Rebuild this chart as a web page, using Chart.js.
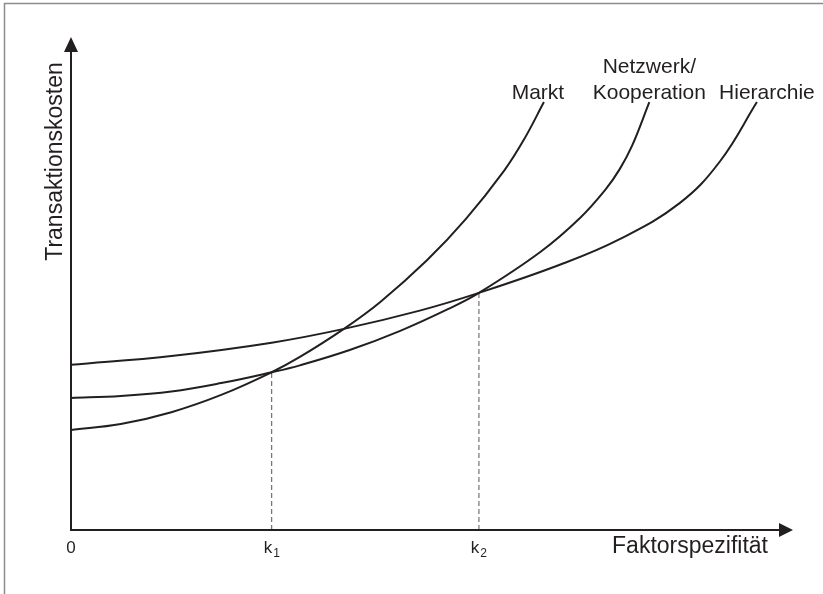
<!DOCTYPE html>
<html><head><meta charset="utf-8">
<script src="https://cdn.jsdelivr.net/npm/chart.js@4"></script>
<style>html,body{margin:0;padding:0;background:#fff;}canvas{display:block;}</style>
</head><body>
<canvas id="c" width="823" height="594"></canvas>
<script>
// ---- data (arbitrary units: x 0..100 = Faktorspezifität, y 0..100 = Transaktionskosten) ----
const marktX = [0, 6.9, 13.9, 20.8, 27.8, 31.7, 37.8, 42.8, 49.3, 54.7, 60.0, 62.7, 65.5];
const marktY = [20.3, 21.5, 23.9, 27.4, 32.0, 35.1, 40.8, 46.2, 54.7, 63.1, 72.9, 79.1, 86.8];
const netzX  = [0, 6.9, 13.9, 20.8, 27.8, 31.7, 38.6, 45.6, 52.2, 56.5, 65.0, 70.5, 74.1, 76.0, 77.7, 80.1];
const netzY  = [26.8, 27.2, 28.1, 29.8, 32.0, 33.4, 36.5, 40.4, 44.8, 48.1, 56.4, 63.3, 69.2, 73.2, 77.9, 86.8];
const hierX  = [0, 13.9, 27.8, 37.8, 48.3, 56.5, 67.7, 76.0, 84.3, 89.9, 95.0];
const hierY  = [33.5, 35.3, 38.0, 40.8, 44.5, 48.1, 53.8, 59.0, 66.3, 74.8, 86.8];
const kValues  = [27.8, 56.5];      // k1, k2 on x axis
const kHeights = [32.0, 48.1];      // cost level at the intersections
const tickValues = [0, 27.8, 56.5];
const tickLabels = ['0', 'k₁', 'k₂'];
const curveLabels = [['Markt'], ['Netzwerk/', 'Kooperation'], ['Hierarchie']];
const xTitle = 'Faktorspezifität';
const yTitle = 'Transaktionskosten';

const ink = '#231f20';
const FONT = '"Liberation Sans", Arial, Helvetica, sans-serif';
const pts = (xs, ys) => xs.map((v, i) => ({x: v, y: ys[i]}));

const curveStyle = {borderColor: ink, borderWidth: 2, pointRadius: 0, fill: false,
  tension: 0.4, clip: false};
const dashStyle = {borderColor: '#555', borderWidth: 1, borderDash: [5, 3], pointRadius: 0, fill: false, tension: 0};

const datasets = [
  Object.assign({label: 'Markt', data: pts(marktX, marktY)}, curveStyle),
  Object.assign({label: 'Netzwerk/Kooperation', data: pts(netzX, netzY)}, curveStyle),
  Object.assign({label: 'Hierarchie', data: pts(hierX, hierY)}, curveStyle),
];
kValues.forEach((k, i) => datasets.push(Object.assign({label: 'k' + (i + 1),
  data: [{x: k, y: 0}, {x: k, y: kHeights[i]}]}, dashStyle)));

const subMap = {'₀':'0','₁':'1','₂':'2','₃':'3','₄':'4','₅':'5','₆':'6','₇':'7','₈':'8','₉':'9'};

const deco = {
  id: 'deco',
  afterDraw(chart) {
    const {ctx, scales: {x, y}} = chart;
    const x0 = x.getPixelForValue(0), y0 = y.getPixelForValue(0);
    const xEnd = x.getPixelForValue(x.max), yEnd = y.getPixelForValue(y.max);
    ctx.save();
    // frame
    ctx.strokeStyle = '#8c8c8c'; ctx.lineWidth = 1.5;
    ctx.beginPath(); ctx.moveTo(4.5, 594); ctx.lineTo(4.5, 3.5); ctx.lineTo(823, 3.5); ctx.stroke();
    // axes
    ctx.strokeStyle = ink; ctx.lineWidth = 2;
    ctx.beginPath();
    ctx.moveTo(x0, y0); ctx.lineTo(xEnd - 10, y0);
    ctx.moveTo(x0, y0 + 1); ctx.lineTo(x0, yEnd + 10);
    ctx.stroke();
    ctx.fillStyle = ink;
    ctx.beginPath(); ctx.moveTo(xEnd, y0); ctx.lineTo(xEnd - 14, y0 - 7); ctx.lineTo(xEnd - 14, y0 + 7); ctx.closePath(); ctx.fill();
    ctx.beginPath(); ctx.moveTo(x0, yEnd); ctx.lineTo(x0 - 7, yEnd + 15); ctx.lineTo(x0 + 7, yEnd + 15); ctx.closePath(); ctx.fill();
    // tick labels
    ctx.textBaseline = 'alphabetic'; ctx.textAlign = 'left';
    tickValues.forEach((v, i) => {
      const lab = tickLabels[i];
      const base = lab.replace(/[₀-₉]/g, '');
      const sub = lab.split('').filter(c => subMap[c]).map(c => subMap[c]).join('');
      ctx.font = '17px ' + FONT; const wb = ctx.measureText(base).width;
      ctx.font = '12px ' + FONT; const ws = sub ? ctx.measureText(sub).width + 1 : 0;
      const px = x.getPixelForValue(v) - (wb + ws) / 2;
      ctx.font = '17px ' + FONT; ctx.fillText(base, px, 553);
      if (sub) { ctx.font = '12px ' + FONT; ctx.fillText(sub, px + wb + 1, 557); }
    });
    // axis titles
    ctx.font = '23px ' + FONT;
    ctx.textAlign = 'right';
    ctx.fillText(xTitle, xEnd - 25, 553);
    ctx.save();
    ctx.translate(x0 - 9, (y0 + yEnd) / 2 - 122);
    ctx.rotate(-Math.PI / 2);
    ctx.textAlign = 'center';
    ctx.fillText(yTitle, 0, 0);
    ctx.restore();
    // curve labels, anchored at each curve's end
    const offs = [-6, 0, 10];
    ctx.font = '21px ' + FONT; ctx.textAlign = 'center';
    curveLabels.forEach((lines, i) => {
      const meta = chart.getDatasetMeta(i);
      const last = meta.data[meta.data.length - 1];
      lines.forEach((t, j) => {
        ctx.fillText(t, last.x + offs[i], last.y - 3 - (lines.length - 1 - j) * 26);
      });
    });
    ctx.restore();
  }
};

new Chart(document.getElementById('c'), {
  type: 'line',
  data: {datasets},
  options: {
    responsive: false, animation: false, devicePixelRatio: 1,
    layout: {padding: {left: 71, right: 30, top: 37, bottom: 64}},
    scales: {
      x: {type: 'linear', min: 0, max: 100, display: false},
      y: {type: 'linear', min: 0, max: 100, display: false}
    },
    plugins: {legend: {display: false}, tooltip: {enabled: false}}
  },
  plugins: [deco]
});
</script>
</body></html>
